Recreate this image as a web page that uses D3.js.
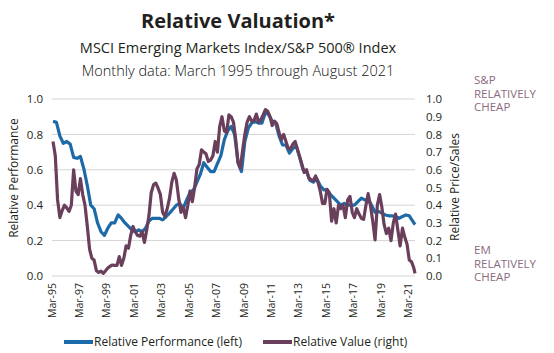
<!DOCTYPE html>
<html>
<head>
<meta charset="utf-8">
<script src="https://cdn.jsdelivr.net/npm/d3@7"></script>
<style>
  body { margin: 0; background: #fff; }
  svg text { font-family: "Open Sans", "Noto Sans", sans-serif; }
</style>
</head>
<body>
<div id="chart"></div>
<script>
// Relative Performance (left axis), quarterly from Mar-95, last point Aug-21
var perfValues = [
  0.874, 0.868, 0.79, 0.75, 0.76, 0.745, 0.67, 0.665, 0.675, 0.605,
  0.51, 0.40, 0.38, 0.30, 0.25, 0.23, 0.27, 0.30, 0.30, 0.345,
  0.325, 0.30, 0.28, 0.26, 0.25, 0.26, 0.25, 0.27, 0.31, 0.326,
  0.326, 0.326, 0.317, 0.335, 0.355, 0.377, 0.40, 0.41, 0.383, 0.43,
  0.47, 0.487, 0.53, 0.575, 0.64, 0.615, 0.59, 0.59, 0.635, 0.68,
  0.77, 0.82, 0.845, 0.80, 0.64, 0.59, 0.76, 0.835, 0.865, 0.873,
  0.864, 0.864, 0.925, 0.91, 0.875, 0.864, 0.79, 0.74, 0.74, 0.694,
  0.72, 0.735, 0.67, 0.60, 0.59, 0.54, 0.53, 0.55, 0.51, 0.487,
  0.487, 0.46, 0.44, 0.42, 0.40, 0.41, 0.40, 0.40, 0.40, 0.42,
  0.44, 0.43, 0.43, 0.40, 0.36, 0.365, 0.355, 0.345, 0.34, 0.34,
  0.336, 0.326, 0.336, 0.345, 0.34, 0.31,
  0.29
];

// Relative Value (right axis), every two months from Mar-95, last point Aug-21
var valueValues = [
  0.76, 0.68, 0.43, 0.33, 0.37, 0.40, 0.385, 0.365, 0.40, 0.60,
  0.48, 0.46, 0.55, 0.46, 0.40, 0.28, 0.15, 0.10, 0.09, 0.03,
  0.02, 0.028, 0.015, 0.03, 0.045, 0.055, 0.062, 0.06, 0.06, 0.11,
  0.06, 0.10, 0.17, 0.157, 0.23, 0.28, 0.25, 0.23, 0.225, 0.25,
  0.19, 0.26, 0.34, 0.47, 0.515, 0.525, 0.496, 0.46, 0.36, 0.336,
  0.38, 0.44, 0.53, 0.58, 0.543, 0.44, 0.36, 0.39, 0.33, 0.40,
  0.48, 0.42, 0.50, 0.605, 0.63, 0.713, 0.70, 0.69, 0.647, 0.655,
  0.68, 0.76, 0.70, 0.845, 0.90, 0.82, 0.81, 0.91, 0.90, 0.87,
  0.77, 0.64, 0.61, 0.71, 0.80, 0.87, 0.90, 0.875, 0.878, 0.915,
  0.87, 0.883, 0.91, 0.94, 0.93, 0.90, 0.85, 0.875, 0.86, 0.81,
  0.77, 0.80, 0.76, 0.72, 0.72, 0.745, 0.76, 0.715, 0.675, 0.63,
  0.585, 0.60, 0.553, 0.543, 0.54, 0.565, 0.53, 0.48, 0.41, 0.41,
  0.49, 0.47, 0.31, 0.38, 0.30, 0.40, 0.38, 0.40, 0.33, 0.43,
  0.45, 0.36, 0.33, 0.38, 0.35, 0.326, 0.32, 0.40, 0.465, 0.40,
  0.31, 0.204, 0.40, 0.46, 0.39, 0.29, 0.24, 0.27, 0.20, 0.30,
  0.35, 0.26, 0.17, 0.27, 0.22, 0.18, 0.09, 0.08, 0.045,
  0.015
];

var leftTicks = [0, 0.2, 0.4, 0.6, 0.8, 1.0];
var rightTicks = [0, 0.1, 0.2, 0.3, 0.4, 0.5, 0.6, 0.7, 0.8, 0.9, 1.0];
var xTickYears = [1995, 1997, 1999, 2001, 2003, 2005, 2007, 2009, 2011, 2013, 2015, 2017, 2019, 2021];

var titleLines = [
  "Relative Valuation*",
  "MSCI Emerging Markets Index/S&P 500\u00AE Index",
  "Monthly data: March 1995 through August 2021"
];

var sideNotes = [
  ["S&P", "RELATIVELY", "CHEAP"],
  ["EM", "RELATIVELY", "CHEAP"]
];

function init() {
    var width = 554;
    var height = 353;
    var blue = "#1c6aa8";
    var purple = "#6a3f5c";
    var mauve = "#8c6a82";
    var ink = "#231f20";

    var svg = d3.select("#chart")
        .append("svg")
        .attr("width", width)
        .attr("height", height)
        .style("background", "#fff");

    var start = new Date(1995, 2, 1);
    var end = new Date(2021, 7, 1);

    var x = d3.scaleTime()
        .domain([start, end])
        .range([53, 415]);

    var y = d3.scaleLinear()
        .domain([0, 1])
        .range([276, 99]);

    // month offsets for each series (last point is Aug-21)
    var perfData = perfValues.map((v, i) => ({
        date: i === perfValues.length - 1 ? end : d3.timeMonth.offset(start, i * 3),
        value: v
    }));
    var valueData = valueValues.map((v, i) => ({
        date: i === valueValues.length - 1 ? end : d3.timeMonth.offset(start, i * 2),
        value: v
    }));

    // titles
    svg.append("text")
        .attr("x", 238).attr("y", 28)
        .attr("text-anchor", "middle")
        .style("font-size", "20px").style("font-weight", "bold")
        .style("fill", ink)
        .text(titleLines[0]);
    svg.append("text")
        .attr("x", 238).attr("y", 53)
        .attr("text-anchor", "middle")
        .style("font-size", "14.5px")
        .style("fill", ink)
        .text(titleLines[1]);
    svg.append("text")
        .attr("x", 238).attr("y", 76)
        .attr("text-anchor", "middle")
        .style("font-size", "14.5px").style("font-weight", 300)
        .style("fill", "#111")
        .text(titleLines[2]);

    // gridlines
    svg.append("g")
        .selectAll("line")
        .data(leftTicks)
        .enter()
        .append("line")
        .attr("x1", 52).attr("x2", 415)
        .attr("y1", d => y(d)).attr("y2", d => y(d))
        .attr("stroke", "#d4d4d4")
        .attr("stroke-width", 1);

    // left axis
    var leftAxis = svg.append("g")
        .attr("transform", "translate(46,0)")
        .call(d3.axisLeft(y).tickValues(leftTicks).tickFormat(d3.format(".1f")).tickSize(0));
    leftAxis.select(".domain").remove();
    leftAxis.selectAll("text")
        .style("font-size", "11.5px")
        .style("fill", ink)
        .style("font-family", "'Open Sans', sans-serif");

    // right axis
    var rightAxis = svg.append("g")
        .attr("transform", "translate(423,0)")
        .call(d3.axisRight(y).tickValues(rightTicks).tickFormat(d3.format(".1f")).tickSize(0));
    rightAxis.select(".domain").remove();
    rightAxis.selectAll("text")
        .style("font-size", "11.5px")
        .style("fill", ink)
        .style("font-family", "'Open Sans', sans-serif");

    // x axis labels (rotated)
    svg.append("g")
        .selectAll("text")
        .data(xTickYears)
        .enter()
        .append("text")
        .attr("transform", d => `translate(${x(new Date(d, 2, 1)) - 1},283) rotate(-90)`)
        .attr("text-anchor", "end")
        .attr("dy", "0.35em")
        .style("font-size", "10.5px")
        .style("fill", ink)
        .text(d => d3.timeFormat("%b-%y")(new Date(d, 2, 1)));

    // axis titles
    svg.append("text")
        .attr("transform", "translate(18,178) rotate(-90)")
        .attr("text-anchor", "middle")
        .style("font-size", "12px")
        .style("fill", ink)
        .text("Relative Performance");
    svg.append("text")
        .attr("transform", "translate(459,187) rotate(-90)")
        .attr("text-anchor", "middle")
        .style("font-size", "12px")
        .style("fill", ink)
        .text("Relative Price/Sales");

    // lines
    var line = d3.line()
        .x(d => x(d.date))
        .y(d => y(d.value));

    svg.append("path")
        .datum(perfData)
        .attr("d", line)
        .attr("fill", "none")
        .attr("stroke", blue)
        .attr("stroke-width", 3.2)
        .attr("stroke-linejoin", "round");

    svg.append("path")
        .datum(valueData)
        .attr("d", line)
        .attr("fill", "none")
        .attr("stroke", purple)
        .attr("stroke-width", 3.2)
        .attr("stroke-linejoin", "round");

    // side notes, one text per line
    var noteTops = [84, 254];
    sideNotes.forEach((lines, k) => {
        svg.append("g")
            .selectAll("text")
            .data(lines)
            .enter()
            .append("text")
            .attr("x", 474)
            .attr("y", (d, i) => noteTops[k] + i * 13.5)
            .style("font-size", "11.5px")
            .style("fill", mauve)
            .text(d => d);
    });

    // legend
    var legendItems = [
        { label: "Relative Performance (left)", color: blue, x: 64 },
        { label: "Relative Value (right)", color: purple, x: 263 }
    ];
    var legend = svg.append("g").attr("class", "legend");
    legendItems.forEach(d => {
        legend.append("line")
            .attr("x1", d.x).attr("x2", d.x + 29)
            .attr("y1", 342).attr("y2", 342)
            .attr("stroke", d.color)
            .attr("stroke-width", 4);
        legend.append("text")
            .attr("x", d.x + 30).attr("y", 346)
            .style("font-size", "12px")
            .style("fill", ink)
            .text(d.label);
    });
}

window.onload = init;
</script>
</body>
</html>
